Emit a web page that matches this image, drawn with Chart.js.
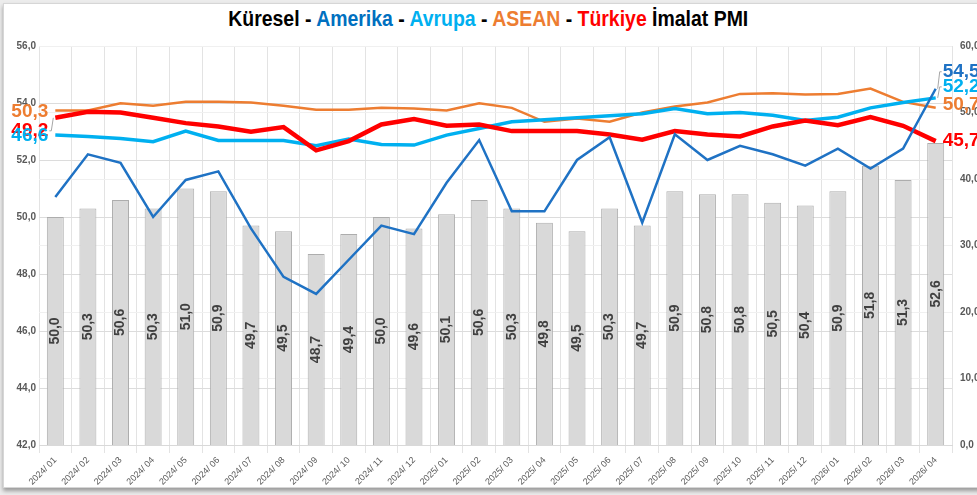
<!DOCTYPE html>
<html>
<head>
<meta charset="utf-8">
<script src="https://cdn.jsdelivr.net/npm/chart.js@4"></script>
<style>
html, body { margin: 0; padding: 0; width: 977px; height: 495px; overflow: hidden; background: #ececec; }
#frame { position: absolute; left: 3px; top: 3px; width: 990px; height: 483px; background: #fff; border: 1px solid #d6d6d6; box-shadow: 0 3px 4px rgba(0,0,0,0.35); }
#title { position: absolute; left: 0; top: 6px; width: 977px; text-align: center; font-family: 'Liberation Sans', Arial, sans-serif; font-weight: bold; font-size: 22px; color: #000; white-space: nowrap; }
#title span.inner { display: inline-block; transform-origin: center; }
#wrap { position: absolute; left: 0; top: 0; width: 1000px; height: 490px; }
</style>
</head>
<body>
<div id="frame"></div>
<div id="title"><span class="inner" id="titleText">Küresel - <span style="color:#0070C0">Amerika</span> - <span style="color:#00B0F0">Avrupa</span> - <span style="color:#ED7D31">ASEAN</span> - <span style="color:#FF0000">Türkiye</span> İmalat PMI</span></div>
<div id="wrap"><canvas id="pmiChart" width="1000" height="490"></canvas></div>
<script>
const months = ['2024/ 01', '2024/ 02', '2024/ 03', '2024/ 04', '2024/ 05', '2024/ 06', '2024/ 07',
    '2024/ 08', '2024/ 09', '2024/ 10', '2024/ 11', '2024/ 12', '2025/ 01', '2025/ 02', '2025/ 03',
    '2025/ 04', '2025/ 05', '2025/ 06', '2025/ 07', '2025/ 08', '2025/ 09', '2025/ 10', '2025/ 11',
    '2025/ 12', '2026/ 01', '2026/ 02', '2026/ 03', '2026/ 04'];

// left axis
const kuresel = [50.0, 50.3, 50.6, 50.3, 51.0, 50.9, 49.7, 49.5, 48.7, 49.4, 50.0, 49.6, 50.1, 50.6,
    50.3, 49.8, 49.5, 50.3, 49.7, 50.9, 50.8, 50.8, 50.5, 50.4, 50.9, 51.8, 51.3, 52.6];
const amerika = [50.7, 52.2, 51.9, 50.0, 51.3, 51.6, 49.6, 47.9, 47.3, 48.5, 49.7, 49.4, 51.2, 52.7,
    50.2, 50.2, 52.0, 52.8, 49.8, 52.9, 52.0, 52.5, 52.2, 51.8, 52.4, 51.7, 52.4, 54.5];

// right axis
const avrupa = [46.6, 46.4, 46.1, 45.6, 47.2, 45.8, 45.8, 45.8, 45.0, 46.0, 45.2, 45.1, 46.6, 47.6,
    48.6, 48.9, 49.2, 49.5, 49.8, 50.6, 49.8, 50.0, 49.6, 48.8, 49.3, 50.7, 51.5, 52.2];
const asean = [50.3, 50.3, 51.4, 51.0, 51.6, 51.6, 51.5, 51.0, 50.4, 50.4, 50.7, 50.6, 50.3, 51.4,
    50.7, 48.6, 49.1, 48.6, 50.0, 50.9, 51.5, 52.8, 52.9, 52.7, 52.8, 53.6, 51.6, 50.7];
const turkiye = [49.2, 50.1, 50.0, 49.2, 48.4, 47.9, 47.1, 47.8, 44.3, 45.7, 48.2, 49.0, 48.0, 48.2,
    47.2, 47.2, 47.2, 46.7, 45.9, 47.2, 46.7, 46.4, 47.9, 48.8, 48.1, 49.3, 48.0, 45.7];

const fmt = v => v.toFixed(1).replace('.', ',');
const tickFont = { family: '"Liberation Sans", Arial, sans-serif', size: 10, weight: 'bold' };

// squeeze the title to the narrow look of the original
const tt = document.getElementById('titleText');
tt.style.transform = 'scaleX(' + (520 / tt.getBoundingClientRect().width) + ')';

// first / last value labels (dataset index + vertical shift), drawn in this order
const endLabels = [
    { idx: 4, first: 13, last: 0 },
    { idx: 3, first: 1, last: -3 },
    { idx: 2, first: 1, last: -11 },
    { idx: 1, last: -17 }
];

const barLabels = {
    id: 'barLabels',
    afterDraw(chart) {
        const c = chart.ctx;
        const xs = chart.scales.x, ys = chart.scales.y;
        c.save();
        c.font = 'bold 14px "Liberation Sans", Arial, sans-serif';
        c.fillStyle = '#404040';
        c.textAlign = 'center';
        c.textBaseline = 'middle';
        kuresel.forEach((v, i) => {
            const x = xs.getPixelForValue(i);
            const y = (ys.getPixelForValue(v) + ys.bottom) / 2;
            c.save();
            c.translate(x, y);
            c.rotate(-Math.PI / 2);
            c.fillText(fmt(v), 0, 0);
            c.restore();
        });
        c.restore();
    }
};

const valueLabels = {
    id: 'valueLabels',
    afterDraw(chart) {
        const c = chart.ctx;
        c.save();
        c.font = 'bold 19px "Liberation Sans", Arial, sans-serif';
        c.textBaseline = 'middle';
        endLabels.forEach(cfg => {
            const ds = chart.data.datasets[cfg.idx];
            const pts = chart.getDatasetMeta(cfg.idx).data;
            const draw = (pt, value, dy, side) => {
                const ly = pt.y + dy;
                if (Math.abs(dy) > 6) {
                    c.strokeStyle = '#a6a6a6';
                    c.lineWidth = 1;
                    c.beginPath();
                    c.moveTo(pt.x + side * 2, pt.y);
                    c.lineTo(pt.x + side * 4, ly);
                    c.lineTo(pt.x + side * 6, ly);
                    c.stroke();
                }
                c.fillStyle = ds.borderColor;
                c.textAlign = side < 0 ? 'right' : 'left';
                c.fillText(fmt(value), pt.x + side * 7, ly);
            };
            if (cfg.first !== undefined) draw(pts[0], ds.data[0], cfg.first, -1);
            if (cfg.last !== undefined) draw(pts[pts.length - 1], ds.data[ds.data.length - 1], cfg.last, 1);
        });
        c.restore();
    }
};

const chartCtx = document.getElementById('pmiChart').getContext('2d');
new Chart(chartCtx, {
    type: 'bar',
    data: {
        labels: months,
        datasets: [
            { label: 'Küresel', data: kuresel, yAxisID: 'y', order: 10,
              backgroundColor: '#d9d9d9', borderColor: '#adadad', borderWidth: 1,
              barPercentage: 0.52, categoryPercentage: 1 },
            { label: 'Amerika', type: 'line', data: amerika, yAxisID: 'y', order: 1,
              borderColor: '#1F72C4', borderWidth: 2.5, pointRadius: 0, tension: 0 },
            { label: 'Avrupa', type: 'line', data: avrupa, yAxisID: 'y1', order: 3,
              borderColor: '#00B0F0', borderWidth: 3.5, pointRadius: 0, tension: 0 },
            { label: 'ASEAN', type: 'line', data: asean, yAxisID: 'y1', order: 4,
              borderColor: '#ED7D31', borderWidth: 2.5, pointRadius: 0, tension: 0 },
            { label: 'Türkiye', type: 'line', data: turkiye, yAxisID: 'y1', order: 2,
              borderColor: '#FF0000', borderWidth: 4.5, pointRadius: 0, tension: 0 }
        ]
    },
    options: {
        responsive: false,
        animation: false,
        devicePixelRatio: 1,
        layout: { padding: { top: 46, left: 0, right: 0, bottom: 0 } },
        plugins: { legend: { display: false }, tooltip: { enabled: false } },
        scales: {
            x: {
                grid: { color: '#e3e3e3', offset: true },
                border: { color: '#d9d9d9' },
                ticks: { color: '#595959', font: { family: '"Liberation Sans", Arial, sans-serif', size: 9 },
                         maxRotation: 45, minRotation: 45, autoSkip: false, padding: 2 },
                afterFit: s => { s.height = 45; }
            },
            y: {
                position: 'left', min: 42, max: 56,
                ticks: { stepSize: 2, color: '#595959', font: tickFont, callback: v => fmt(v), padding: 3 },
                grid: { color: '#dcdcdc', drawTicks: false },
                border: { display: false },
                afterFit: s => { s.width = 39; }
            },
            y1: {
                position: 'right', min: 0, max: 60,
                ticks: { stepSize: 10, color: '#595959', font: tickFont, callback: v => fmt(v), padding: 8 },
                grid: { color: '#f0f0f0', drawTicks: false },
                border: { display: false },
                afterFit: s => { s.width = 48; }
            }
        }
    },
    plugins: [barLabels, valueLabels]
});
</script>
</body>
</html>
